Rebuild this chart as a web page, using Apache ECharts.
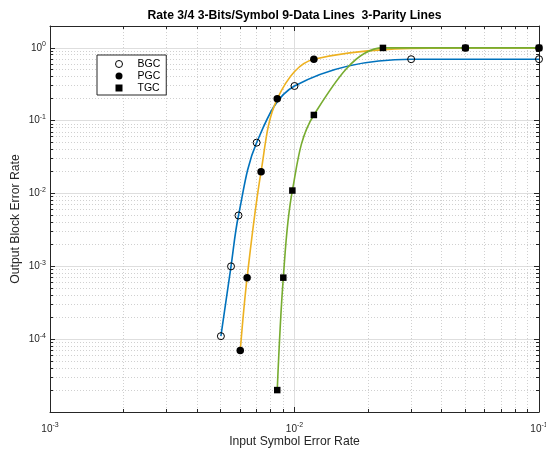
<!DOCTYPE html>
<html><head><meta charset="utf-8">
<script src="https://cdn.jsdelivr.net/npm/echarts@6/dist/echarts.min.js"></script>
<style>html,body{margin:0;padding:0;background:#fff}#c{width:546px;height:450px}</style>
</head><body><div id="c"></div>
<script>
// ---- data ----
const titleText = 'Rate 3/4 3-Bits/Symbol 9-Data Lines  3-Parity Lines';
const xName = 'Input Symbol Error Rate';
const yName = 'Output Block Error Rate';
const seriesNames = ['BGC', 'PGC', 'TGC'];
const bgcX = [0.005, 0.0055, 0.0059, 0.007, 0.01, 0.03, 0.1];
const bgcY = [1.1e-4, 1e-3, 5e-3, 0.05, 0.3, 0.7, 0.7];
const pgcX = [0.006, 0.0064, 0.0073, 0.0085, 0.012, 0.05, 0.1];
const pgcY = [7e-5, 7e-4, 0.02, 0.2, 0.7, 1, 1];
const tgcX = [0.0085, 0.009, 0.0098, 0.012, 0.023, 0.05, 0.1];
const tgcY = [2e-5, 7e-4, 0.011, 0.12, 1, 1, 1];
const xRange = [1e-3, 1e-1];
const yRange = [1e-5, 2];
const xMinorTicks = [0.002,0.003,0.004,0.005,0.006,0.007,0.008,0.009,
                     0.02,0.03,0.04,0.05,0.06,0.07,0.08,0.09];
const yMinorTicks = [2e-5,3e-5,4e-5,5e-5,6e-5,7e-5,8e-5,9e-5,
                     2e-4,3e-4,4e-4,5e-4,6e-4,7e-4,8e-4,9e-4,
                     2e-3,3e-3,4e-3,5e-3,6e-3,7e-3,8e-3,9e-3,
                     2e-2,3e-2,4e-2,5e-2,6e-2,7e-2,8e-2,9e-2,
                     0.2,0.3,0.4,0.5,0.6,0.7,0.8,0.9];

// ---- styles ----
const FONT = '"Liberation Sans", Arial, Helvetica, sans-serif';
const axisColor = '#262626';
const lineColors = ['#0072BD', '#EDB120', '#77AC30'];
const majorGrid = '#dedede';
const minorGrid = '#d0d0d0';

function zip(xs, ys) { return xs.map((x, i) => [x, ys[i]]); }
function powLabel(v) {
  const e = Math.round(Math.log10(v));
  if (Math.abs(v / Math.pow(10, e) - 1) > 1e-6) return '';
  return '{b|10}{s|' + e + '}';
}
const labelRich = {
  b: { fontSize: 10, fontFamily: FONT, color: axisColor },
  s: { fontSize: 7, fontFamily: FONT, color: axisColor, padding: [0, 0, 7, 0] }
};

function baseAxis(type, pos, range, showLabel) {
  return {
    type: 'log', logBase: 10, position: pos, min: range[0], max: range[1],
    axisLine: { show: true, onZero: false, lineStyle: { color: axisColor, width: 1 } },
    axisTick: { show: true, inside: true, length: 5, lineStyle: { color: axisColor, width: 1 } },
    minorTick: { show: false },
    splitLine: { show: showLabel, lineStyle: { color: majorGrid, width: 1 } },
    axisLabel: { show: showLabel, formatter: powLabel, rich: labelRich, margin: type === 'x' ? 10 : 4,
                 showMinLabel: type === 'x', showMaxLabel: true }
  };
}

const xAxes = [
  Object.assign(baseAxis('x', 'bottom', xRange, true), {
    name: xName, nameLocation: 'middle', nameGap: 24, nameMoveOverlap: false,
    nameTextStyle: { fontSize: 12.2, fontFamily: FONT, color: axisColor }
  }),
  baseAxis('x', 'top', xRange, false)
];
const yAxes = [
  Object.assign(baseAxis('y', 'left', yRange, true), {
    name: yName, nameLocation: 'middle', nameGap: 28, nameMoveOverlap: false,
    nameTextStyle: { fontSize: 12.2, fontFamily: FONT, color: axisColor }
  }),
  baseAxis('y', 'right', yRange, false)
];

function crisp(v) { return Math.round(v - 0.5) + 0.5; }

function xMinorRender(params, api) {
  const cs = params.coordSys;
  const px = crisp(api.coord([api.value(0), 1])[0]);
  const top = cs.y, bot = cs.y + cs.height;
  return { type: 'group', children: [
    { type: 'line', shape: { x1: px, y1: top, x2: px, y2: bot },
      style: { stroke: minorGrid, lineWidth: 1, lineDash: [1, 2] } },
    { type: 'line', shape: { x1: px, y1: bot, x2: px, y2: bot - 3 }, style: { stroke: axisColor, lineWidth: 1 } },
    { type: 'line', shape: { x1: px, y1: top, x2: px, y2: top + 3 }, style: { stroke: axisColor, lineWidth: 1 } }
  ]};
}
function yMinorRender(params, api) {
  const cs = params.coordSys;
  const py = crisp(api.coord([0.01, api.value(1)])[1]);
  const l = cs.x, r = cs.x + cs.width;
  return { type: 'group', children: [
    { type: 'line', shape: { x1: l, y1: py, x2: r, y2: py },
      style: { stroke: minorGrid, lineWidth: 1, lineDash: [1, 2] } },
    { type: 'line', shape: { x1: l, y1: py, x2: l + 3, y2: py }, style: { stroke: axisColor, lineWidth: 1 } },
    { type: 'line', shape: { x1: r, y1: py, x2: r - 3, y2: py }, style: { stroke: axisColor, lineWidth: 1 } }
  ]};
}

const allX = [bgcX, pgcX, tgcX];
const allY = [bgcY, pgcY, tgcY];
const symbols = ['circle', 'circle', 'rect'];
const symbolSizes = [7, 7.5, 6.5];
const markerFill = ['transparent', '#000', '#000'];

const series = [
  { type: 'custom', name: 'xminor', renderItem: xMinorRender, data: xMinorTicks.map(v => [v, 1]), z: 1, silent: true, clip: false },
  { type: 'custom', name: 'yminor', renderItem: yMinorRender, data: yMinorTicks.map(v => [0.01, v]), z: 1, silent: true, clip: false }
];
seriesNames.forEach((n, i) => {
  series.push({
    type: 'line', name: n + ' curve', data: zip(allX[i], allY[i]), smooth: 0.35,
    showSymbol: false, symbol: 'none', z: 3 + i,
    lineStyle: { color: lineColors[i], width: 1.6 }, itemStyle: { color: lineColors[i] },
    animation: false, clip: false
  });
});
seriesNames.forEach((n, i) => {
  series.push({
    type: 'scatter', name: n, data: zip(allX[i], allY[i]), symbol: symbols[i], symbolSize: symbolSizes[i],
    z: 10 + (i === 1 ? 2 : i === 2 ? 1 : 0), clip: false,
    itemStyle: { color: markerFill[i], borderColor: '#000', borderWidth: i === 0 ? 1 : 0, opacity: 1 }
  });
});

const chart = echarts.init(document.getElementById('c'), null, { renderer: 'canvas' });
chart.setOption({
  animation: false,
  backgroundColor: '#fff',
  grid: { left: 50, right: 7, top: 26, bottom: 38, containLabel: false, outerBoundsMode: 'none' },
  xAxis: xAxes,
  yAxis: yAxes,
  legend: {
    orient: 'vertical', left: 97, top: 55,
    padding: [3, 6, 1, 18], itemGap: 0, itemWidth: 7, itemHeight: 7,
    borderColor: axisColor, borderWidth: 1, backgroundColor: '#fff',
    textStyle: { fontSize: 10.5, fontFamily: FONT, color: '#000', padding: [0, 0, 0, 10], lineHeight: 12 },
    data: [
      { name: 'BGC', icon: 'circle', itemStyle: { color: '#fff', borderColor: '#000', borderWidth: 1 } },
      { name: 'PGC', icon: 'circle', itemStyle: { color: '#000', borderWidth: 0 } },
      { name: 'TGC', icon: 'rect', itemStyle: { color: '#000', borderWidth: 0 } }
    ],
    selectedMode: false
  },
  graphic: [{
    type: 'text', x: 294.5, y: 16, z: 100,
    style: { text: titleText, fill: '#000', font: 'bold 12.2px ' + FONT, textAlign: 'center', textVerticalAlign: 'middle' }
  }],
  series: series
});
</script>
</body></html>
